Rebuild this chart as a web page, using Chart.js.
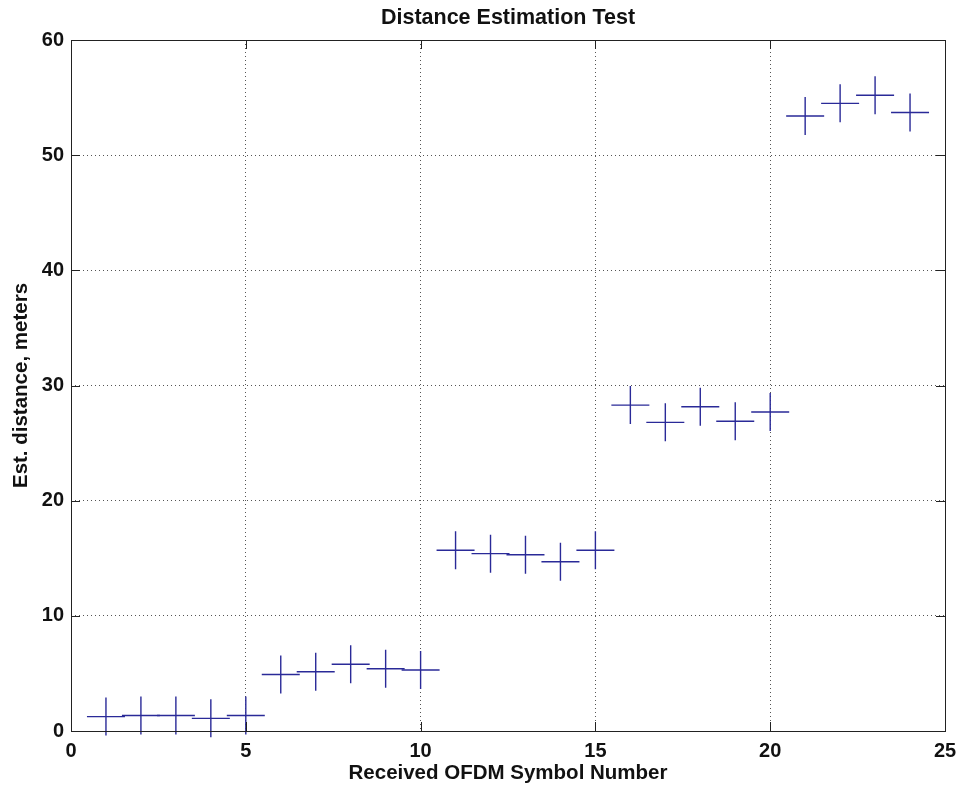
<!DOCTYPE html>
<html>
<head>
<meta charset="utf-8">
<title>Distance Estimation Test</title>
<script src="https://cdn.jsdelivr.net/npm/chart.js@4/dist/chart.umd.min.js"></script>
<style>
  body { margin: 0; background: #fff; }
  #wrap { width: 961px; height: 790px; position: relative; }
</style>
</head>
<body>
<div id="wrap"><canvas id="myChart"></canvas></div>
<script>
// symbol index and estimated distance
const symbolNumbers = [1, 2, 3, 4, 5, 6, 7, 8, 9, 10, 11, 12, 13, 14, 15, 16, 17, 18, 19, 20, 21, 22, 23, 24];
const estDistance = [1.25, 1.35, 1.35, 1.1, 1.35, 4.9, 5.15, 5.8, 5.4, 5.3,
                     15.7, 15.4, 15.3, 14.7, 15.7, 28.3, 26.8, 28.15, 26.9, 27.7,
                     53.4, 54.5, 55.2, 53.7];
const xTicks = [0, 5, 10, 15, 20, 25];
const yTicks = [0, 10, 20, 30, 40, 50, 60];

const chartTitle = 'Distance Estimation Test';
const xTitle = 'Received OFDM Symbol Number';
const yTitle = 'Est. distance, meters';

const FONT = '"Liberation Sans", Arial, Helvetica, sans-serif';

// box round the axes, matlab style inner ticks, titles
const framePlugin = {
  id: 'frame',
  afterDraw(chart) {
    const { ctx, chartArea: a, scales } = chart;
    ctx.save();
    ctx.strokeStyle = '#222';
    ctx.lineWidth = 1;
    ctx.strokeRect(Math.round(a.left) + 0.5, Math.round(a.top) + 0.5,
                   Math.round(a.width), Math.round(a.height));
    xTicks.slice(1, -1).forEach(v => {
      const px = Math.round(scales.x.getPixelForValue(v)) + 0.5;
      ctx.beginPath();
      ctx.moveTo(px, a.bottom); ctx.lineTo(px, a.bottom - 9);
      ctx.moveTo(px, a.top); ctx.lineTo(px, a.top + 9);
      ctx.stroke();
    });
    yTicks.slice(1, -1).forEach(v => {
      const py = Math.round(scales.y.getPixelForValue(v)) + 0.5;
      ctx.beginPath();
      ctx.moveTo(a.left, py); ctx.lineTo(a.left + 9, py);
      ctx.moveTo(a.right, py); ctx.lineTo(a.right - 9, py);
      ctx.stroke();
    });

    ctx.fillStyle = '#111';
    ctx.textAlign = 'center';
    ctx.textBaseline = 'middle';
    ctx.font = 'bold 21.5px ' + FONT;
    ctx.fillText(chartTitle, (a.left + a.right) / 2, 18);
    ctx.font = 'bold 20.5px ' + FONT;
    ctx.fillText(xTitle, (a.left + a.right) / 2, 773);
    ctx.translate(21, (a.top + a.bottom) / 2);
    ctx.rotate(-Math.PI / 2);
    ctx.fillText(yTitle, 0, 0);
    ctx.restore();
  }
};

const gridStyle = {
  color: ctx => (ctx.tick && (ctx.index === 0 || ctx.index === ctx.chart.scales[ctx.scale.id].ticks.length - 1)) ? 'rgba(0,0,0,0)' : '#555',
  lineWidth: 1,
  drawTicks: false
};

const ctx = document.getElementById('myChart').getContext('2d');
const myChart = new Chart(ctx, {
  type: 'scatter',
  data: {
    datasets: [{
      label: 'Est. distance',
      data: symbolNumbers.map((n, i) => ({ x: n, y: estDistance[i] })),
      pointStyle: 'cross',
      pointRadius: 19,
      pointHoverRadius: 19,
      borderColor: '#2a2a98',
      backgroundColor: '#2a2a98',
      pointBorderWidth: 1.4,
      showLine: false,
      clip: false
    }]
  },
  options: {
    responsive: true,
    maintainAspectRatio: false,
    animation: false,
    layout: { autoPadding: false, padding: { top: 40, right: 16, left: 0, bottom: 0 } },
    plugins: {
      legend: { display: false },
      title: { display: false },
      tooltip: { enabled: false }
    },
    scales: {
      x: {
        type: 'linear',
        min: 0,
        max: 25,
        afterFit: s => { s.height = 59; s.paddingLeft = 0; s.paddingRight = 0; },
        afterBuildTicks: s => { s.ticks = xTicks.map(v => ({ value: v })); },
        border: { display: false, dash: [1, 3] },
        grid: gridStyle,
        ticks: { padding: 8, color: '#111', font: { family: FONT, size: 20, weight: 'bold' } }
      },
      y: {
        min: 0,
        max: 60,
        afterFit: s => { s.width = 71; s.paddingTop = 0; s.paddingBottom = 0; },
        afterBuildTicks: s => { s.ticks = yTicks.map(v => ({ value: v })); },
        border: { display: false, dash: [1, 3] },
        grid: gridStyle,
        ticks: { padding: 7, color: '#111', font: { family: FONT, size: 20, weight: 'bold' } }
      }
    }
  },
  plugins: [framePlugin]
});
</script>
</body>
</html>
